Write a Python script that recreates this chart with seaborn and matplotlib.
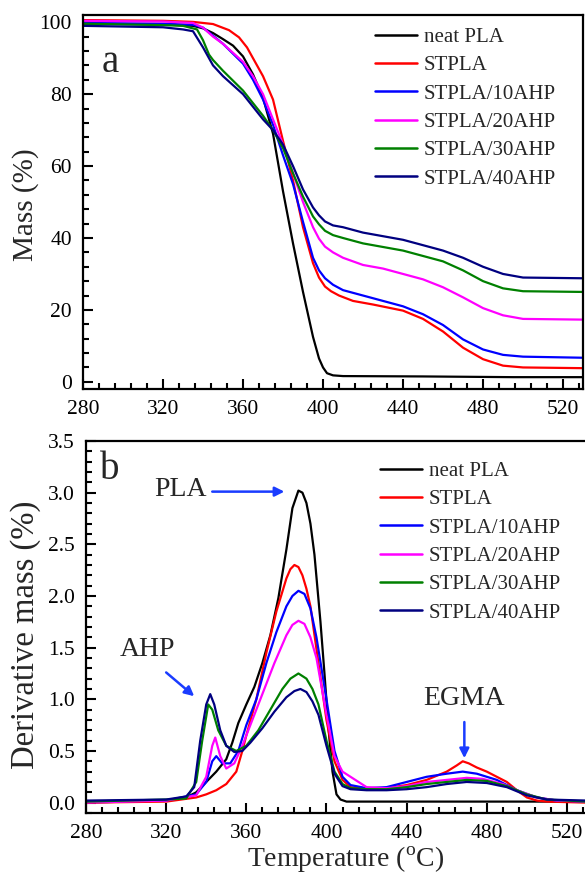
import numpy as np
import pandas as pd
import seaborn as sns
import matplotlib.pyplot as plt
from matplotlib.ticker import MultipleLocator

# sample names and colours
names = ["neat PLA", "STPLA", "STPLA/10AHP", "STPLA/20AHP", "STPLA/30AHP", "STPLA/40AHP"]
colors = ["#000000", "#ff0000", "#0000ff", "#ff00ff", "#008000", "#000080"]

# (a) TGA mass curves
tga_T = {
    "neat PLA": [280, 320, 335, 340, 345, 350, 355, 360, 365, 370, 373, 375, 380, 385, 390, 395, 398, 400, 402, 405, 410, 450, 495, 530],
    "STPLA": [280, 320, 335, 345, 353, 358, 362, 366, 370, 375, 380, 385, 390, 395, 398, 401, 404, 408, 415, 425, 440, 450, 460, 470, 480, 490, 500, 530],
    "STPLA/10AHP": [280, 320, 335, 340, 350, 360, 365, 370, 375, 380, 385, 390, 395, 398, 401, 405, 410, 420, 430, 440, 450, 460, 470, 480, 490, 500, 530],
    "STPLA/20AHP": [280, 320, 335, 340, 345, 350, 360, 365, 370, 375, 380, 385, 390, 395, 398, 401, 405, 410, 420, 430, 440, 450, 460, 470, 480, 490, 500, 530],
    "STPLA/30AHP": [280, 320, 330, 337, 340, 343, 345, 350, 360, 370, 375, 380, 385, 390, 395, 398, 401, 405, 410, 420, 430, 440, 450, 460, 470, 480, 490, 500, 530],
    "STPLA/40AHP": [280, 320, 330, 335, 340, 345, 350, 360, 370, 375, 380, 385, 390, 395, 398, 401, 405, 410, 420, 430, 440, 450, 460, 470, 480, 490, 500, 530],
}
tga_M = {
    "neat PLA": [99.6, 99.4, 99.0, 98.3, 97.0, 95.3, 93.5, 90.5, 85.5, 79.0, 73.0, 69.0, 53.0, 38.5, 25.0, 12.5, 6.5, 4.0, 2.4, 1.8, 1.6, 1.5, 1.3, 1.3],
    "STPLA": [100.6, 100.4, 100.1, 99.5, 97.8, 95.8, 93.0, 89.0, 85.0, 78.5, 67.0, 56.0, 43.0, 33.0, 29.0, 26.5, 25.2, 24.0, 22.5, 21.5, 19.8, 17.5, 14.0, 9.5, 6.3, 4.5, 4.0, 3.8],
    "STPLA/10AHP": [99.8, 99.6, 99.3, 98.5, 94.0, 88.5, 84.0, 78.5, 71.5, 63.0, 55.0, 44.5, 34.5, 31.0, 28.8, 27.0, 25.5, 24.0, 22.5, 21.0, 18.8, 15.8, 11.8, 9.0, 7.5, 7.0, 6.7],
    "STPLA/20AHP": [100.4, 100.2, 99.8, 98.5, 96.0, 94.0, 89.0, 85.0, 80.0, 73.0, 66.0, 58.0, 50.0, 43.0, 39.8, 37.6, 36.0, 34.5, 32.5, 31.5, 30.0, 28.5, 26.3, 23.5, 20.5, 18.5, 17.5, 17.3],
    "STPLA/30AHP": [99.6, 99.2, 99.0, 98.0, 95.0, 91.0, 89.5, 86.5, 81.0, 74.0, 70.0, 65.0, 58.0, 51.5, 46.0, 43.8, 42.0, 40.8, 40.0, 38.5, 37.5, 36.5, 35.0, 33.5, 31.0, 28.0, 26.0, 25.2, 25.0],
    "STPLA/40AHP": [99.0, 98.6, 98.0, 97.5, 93.0, 88.0, 85.0, 80.0, 73.0, 70.0, 66.0, 60.0, 53.5, 48.5, 46.3, 44.6, 43.5, 43.0, 41.5, 40.5, 39.5, 38.0, 36.5, 34.5, 32.0, 30.0, 29.0, 28.8],
}

# (b) DTG derivative curves
dtg_T = {
    "neat PLA": [280, 320, 330, 335, 340, 345, 350, 353, 356, 360, 364, 368, 372, 376, 380, 383, 386, 388, 390, 392, 394, 397, 399, 401, 403, 405, 407, 410, 450, 530],
    "STPLA": [280, 320, 335, 340, 345, 350, 355, 358, 360, 365, 370, 375, 380, 382, 384, 386, 388, 390, 392, 396, 400, 404, 408, 412, 420, 430, 440, 450, 460, 465, 468, 471, 475, 480, 485, 490, 495, 500, 505, 510, 530],
    "STPLA/10AHP": [280, 320, 335, 340, 343, 345, 348, 352, 356, 360, 365, 370, 375, 380, 383, 386, 389, 392, 395, 400, 404, 408, 412, 420, 430, 440, 450, 460, 468, 475, 485, 495, 505, 515, 530],
    "STPLA/20AHP": [280, 320, 335, 340, 343, 344.5, 347, 350, 354, 358, 362, 368, 374, 380, 383, 386, 389, 392, 395, 400, 404, 408, 412, 420, 430, 440, 450, 460, 470, 478, 488, 495, 505, 515, 530],
    "STPLA/30AHP": [280, 320, 330, 335, 338, 341, 343, 346, 350, 355, 360, 366, 372, 378, 382, 386, 390, 393, 396, 400, 404, 408, 412, 420, 430, 440, 450, 460, 470, 480, 490, 500, 510, 530],
    "STPLA/40AHP": [280, 320, 330, 334, 337, 340, 342, 344, 347, 350, 354, 358, 362, 368, 374, 380, 384, 387, 390, 393, 396, 400, 404, 408, 412, 420, 430, 440, 450, 460, 470, 480, 490, 500, 510, 530],
}
dtg_D = {
    "neat PLA": [0.0, 0.02, 0.05, 0.1, 0.2, 0.3, 0.42, 0.58, 0.77, 0.95, 1.12, 1.35, 1.62, 1.98, 2.45, 2.85, 3.02, 3.0, 2.9, 2.7, 2.4, 1.75, 1.25, 0.72, 0.3, 0.08, 0.03, 0.01, 0.01, 0.01],
    "STPLA": [0.0, 0.01, 0.05, 0.08, 0.12, 0.18, 0.3, 0.5, 0.65, 1.0, 1.45, 1.85, 2.17, 2.26, 2.3, 2.28, 2.2, 2.07, 1.9, 1.35, 0.8, 0.4, 0.22, 0.15, 0.13, 0.14, 0.17, 0.22, 0.3, 0.36, 0.4, 0.38, 0.34, 0.3, 0.25, 0.2, 0.12, 0.05, 0.02, 0.01, 0.0],
    "STPLA/10AHP": [0.01, 0.02, 0.08, 0.2, 0.4, 0.45, 0.38, 0.38, 0.5, 0.75, 1.0, 1.35, 1.65, 1.9, 2.0, 2.05, 2.02, 1.88, 1.6, 1.0, 0.5, 0.25, 0.17, 0.14, 0.15, 0.2, 0.25, 0.28, 0.3, 0.28, 0.22, 0.12, 0.05, 0.02, 0.01],
    "STPLA/20AHP": [0.0, 0.02, 0.07, 0.25, 0.55, 0.63, 0.45, 0.33, 0.38, 0.55, 0.75, 1.05, 1.35, 1.62, 1.72, 1.76, 1.73, 1.6, 1.4, 0.85, 0.45, 0.3, 0.25, 0.15, 0.14, 0.16, 0.2, 0.22, 0.24, 0.23, 0.18, 0.12, 0.05, 0.02, 0.01],
    "STPLA/30AHP": [0.01, 0.03, 0.04, 0.2, 0.6, 0.95, 0.9, 0.7, 0.55, 0.5, 0.55, 0.7, 0.9, 1.1, 1.2, 1.25, 1.2, 1.1, 0.95, 0.6, 0.3, 0.18, 0.14, 0.13, 0.13, 0.15, 0.18, 0.2, 0.22, 0.21, 0.16, 0.08, 0.03, 0.01],
    "STPLA/40AHP": [0.02, 0.03, 0.06, 0.15, 0.6, 0.95, 1.05, 0.95, 0.7, 0.55, 0.49, 0.5, 0.58, 0.72, 0.88, 1.02, 1.08, 1.1, 1.07, 0.98, 0.85, 0.55, 0.28, 0.16, 0.13, 0.12, 0.12, 0.13, 0.15, 0.18, 0.2, 0.19, 0.15, 0.07, 0.03, 0.02],
}


def long_form(xs, ys, ycol):
    rows = []
    for n in names:
        for x, y in zip(xs[n], ys[n]):
            rows.append({"Temperature": x, ycol: y, "sample": n})
    return pd.DataFrame(rows)


tga = long_form(tga_T, tga_M, "Mass")
dtg = long_form(dtg_T, dtg_D, "Deriv")

sns.set_theme(style="ticks")
plt.rcParams["font.family"] = ["Liberation Serif", "DejaVu Serif"]
plt.rcParams["mathtext.fontset"] = "custom"
plt.rcParams["mathtext.rm"] = "Liberation Serif"

fig = plt.figure(figsize=(5.85, 8.75), dpi=100)
ax1 = fig.add_axes([0.1419, 0.5554, 0.8547, 0.4274])
ax2 = fig.add_axes([0.147, 0.0709, 0.8564, 0.4251])

pal = dict(zip(names, colors))
sns.lineplot(data=tga, x="Temperature", y="Mass", hue="sample", hue_order=names,
             palette=pal, ax=ax1, lw=1.6, sort=False, estimator=None, legend=False)
sns.lineplot(data=dtg, x="Temperature", y="Deriv", hue="sample", hue_order=names,
             palette=pal, ax=ax2, lw=1.6, sort=False, estimator=None, legend=False)


def style_axis(ax, ylim, ymaj, ymin_):
    ax.set_xlim(280, 530)
    ax.set_ylim(*ylim)
    ax.xaxis.set_major_locator(MultipleLocator(40))
    ax.xaxis.set_minor_locator(MultipleLocator(8))
    ax.yaxis.set_major_locator(MultipleLocator(ymaj))
    ax.yaxis.set_minor_locator(MultipleLocator(ymin_))
    ax.tick_params(which="both", direction="in", width=1.5, colors="black",
                   top=False, right=False, labelsize=15.5)
    ax.tick_params(which="major", length=7, pad=8)
    ax.tick_params(which="minor", length=4)
    for sp in ax.spines.values():
        sp.set_visible(True)
        sp.set_linewidth(1.6)
        sp.set_color("black")
    # legend
    handles = [plt.Line2D([], [], color=c, lw=1.8) for c in colors]
    ax.legend(handles, names, loc="upper left", frameon=False, fontsize=15,
              handlelength=2.0, handletextpad=0.35, labelspacing=0.42,
              borderpad=0, borderaxespad=0)


style_axis(ax1, (-2, 102), 20, 4)
style_axis(ax2, (-0.1, 3.5), 0.5, 0.1)
ax1.get_legend().set_bbox_to_anchor((0.584, 0.967))
ax2.get_legend().set_bbox_to_anchor((0.587, 0.945))

ax1.set_xlabel("")
ax1.set_ylabel("Mass (%)", fontsize=21)
ax1.yaxis.set_label_coords(-0.088, 0.492)
ax2.set_ylabel("Derivative mass (%)", fontsize=23.5)
ax2.yaxis.set_label_coords(-0.09, 0.48)
ax2.set_xlabel("Temperature ($^{\\rm o}$C)", fontsize=20)
ax2.xaxis.set_label_coords(0.519, -0.085)
ax1.yaxis.set_major_formatter(plt.FuncFormatter(lambda v, p: f"{v:.0f}"))
ax2.yaxis.set_major_formatter(plt.FuncFormatter(lambda v, p: f"{v:.1f}"))

ax1.text(293.5, 88.8, "a", fontsize=28, ha="center", va="center")
ax2.text(292, 3.22, "b", fontsize=28, ha="center", va="center")

arrow = dict(arrowstyle="-|>", color="#1a3cff", lw=1.8, mutation_scale=14, shrinkA=0, shrinkB=0)
ax2.text(327, 3.03, "PLA", fontsize=20, ha="center", va="center")
ax2.annotate("", xy=(379, 3.01), xytext=(343, 3.01), arrowprops=arrow)
ax2.annotate("", xy=(334, 1.03), xytext=(320, 1.26), arrowprops=arrow)
ax2.text(310.7, 1.48, "AHP", fontsize=20, ha="center", va="center")
ax2.annotate("", xy=(468.8, 0.43), xytext=(468.8, 0.78), arrowprops=arrow)
ax2.text(468.8, 1.01, "EGMA", fontsize=20, ha="center", va="center")

fig.savefig("out.png", dpi=100)
